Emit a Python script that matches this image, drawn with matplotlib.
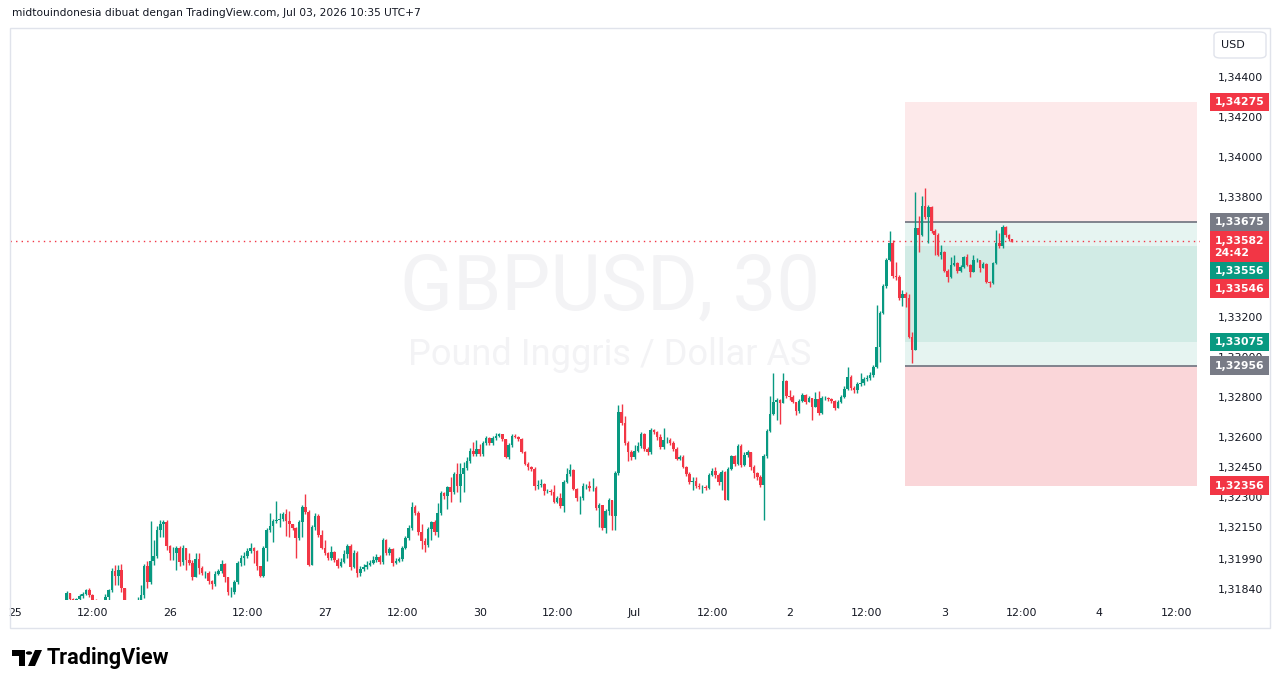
import numpy as np
import matplotlib
matplotlib.use("Agg")
import matplotlib.pyplot as plt
from matplotlib.patches import Rectangle, FancyBboxPatch, Circle, Polygon
import matplotlib.transforms as mtransforms

# GBPUSD 30m candles, prices in points (1e-5), bar index counted from Jun 25 00:00
first_bar = 16
first_open_pts = 131785
closes_pts = [
    131820, 131790, 131785, 131790, 131805, 131815, 131835, 131810, 131780, 131770,
    131755, 131765, 131800, 131835, 131930, 131905, 131935, 131845, 131765, 131750,
    131735, 131755, 131785, 131810, 131955, 131875, 131980, 132005, 132135, 132165,
    132175, 132055, 132020, 132020, 132045, 131975, 132045, 131985, 131970, 131900,
    131990, 131945, 131920, 131920, 131880, 131865, 131915, 131930, 131965, 131900,
    131825, 131825, 131875, 131970, 131995, 132005, 132030, 132045, 132030, 131955,
    131905, 132045, 132135, 132155, 132180, 132185, 132190, 132215, 132180, 132165,
    132145, 132095, 132175, 132250, 132225, 131960, 132150, 132205, 132110, 132045,
    132020, 131995, 132025, 131985, 131955, 131975, 132015, 132055, 131950, 132020,
    131920, 131940, 131950, 131960, 131970, 131985, 132000, 131975, 132085, 132020,
    132040, 131970, 131980, 131990, 132045, 132095, 132145, 132250, 132220, 132125,
    132080, 132060, 132140, 132175, 132125, 132220, 132320, 132305, 132350, 132325,
    132415, 132355, 132415, 132445, 132480, 132530, 132515, 132540, 132515, 132570,
    132595, 132570, 132595, 132605, 132615, 132590, 132500, 132560, 132605, 132600,
    132590, 132525, 132465, 132450, 132440, 132355, 132360, 132365, 132330, 132330,
    132325, 132275, 132295, 132255, 132375, 132415, 132435, 132340, 132295, 132295,
    132355, 132355, 132345, 132345, 132245, 132260, 132145, 132230, 132285, 132205,
    132420, 132725, 132670, 132570, 132525, 132500, 132530, 132555, 132615, 132540,
    132525, 132635, 132625, 132600, 132550, 132585, 132585, 132570, 132540, 132490,
    132500, 132450, 132415, 132375, 132380, 132355, 132350, 132350, 132345, 132410,
    132430, 132410, 132375, 132425, 132285, 132440, 132505, 132465, 132555, 132460,
    132510, 132525, 132450, 132420, 132400, 132360, 132505, 132630, 132715, 132775,
    132785, 132770, 132880, 132805, 132800, 132775, 132730, 132780, 132810, 132775,
    132795, 132750, 132790, 132720, 132795, 132795, 132790, 132780, 132745, 132775,
    132800, 132840, 132900, 132845, 132835, 132865, 132870, 132890, 132895, 132910,
    132950, 133050, 133220, 133355, 133485, 133570, 133405, 133400, 133295, 133315,
    133295, 133100, 133035, 133645, 133610, 133755, 133700, 133750, 133630, 133610,
    133510, 133525, 133430, 133400, 133460, 133470, 133430, 133450, 133500, 133460,
    133425, 133485, 133485, 133445, 133465, 133375, 133370, 133470, 133570, 133555,
    133650, 133610, 133590, 133582,
]
highs_pts = [
    131830, 131800, 131795, 131795, 131815, 131825, 131840, 131845, 131815, 131790,
    131780, 131780, 131815, 131840, 131945, 131960, 131960, 131965, 131845, 131775,
    131765, 131770, 131800, 131860, 131965, 131980, 132180, 132085, 132155, 132185,
    132185, 132185, 132060, 132050, 132055, 132055, 132060, 132045, 132020, 131985,
    132020, 132020, 131955, 131930, 131930, 131885, 131930, 131940, 131985, 131970,
    131900, 131850, 131885, 131980, 132010, 132025, 132045, 132070, 132050, 132035,
    131955, 132055, 132145, 132220, 132190, 132280, 132220, 132225, 132240, 132230,
    132165, 132150, 132185, 132260, 132315, 132235, 132160, 132220, 132215, 132135,
    132085, 132025, 132055, 132030, 131995, 131995, 132035, 132065, 132065, 132035,
    132030, 131955, 131965, 131980, 131985, 132005, 132015, 132010, 132095, 132090,
    132050, 132045, 131995, 132000, 132055, 132105, 132160, 132275, 132260, 132230,
    132165, 132095, 132150, 132180, 132185, 132270, 132330, 132325, 132355, 132400,
    132425, 132470, 132470, 132475, 132500, 132545, 132575, 132585, 132565, 132580,
    132605, 132600, 132605, 132620, 132620, 132615, 132565, 132570, 132615, 132615,
    132605, 132595, 132530, 132475, 132455, 132450, 132385, 132390, 132370, 132340,
    132340, 132360, 132305, 132320, 132385, 132445, 132465, 132440, 132345, 132305,
    132370, 132365, 132380, 132395, 132355, 132270, 132260, 132240, 132295, 132285,
    132430, 132760, 132765, 132705, 132580, 132535, 132560, 132575, 132625, 132620,
    132550, 132645, 132640, 132630, 132615, 132645, 132600, 132595, 132580, 132550,
    132510, 132510, 132455, 132425, 132400, 132400, 132370, 132360, 132360, 132420,
    132445, 132450, 132420, 132435, 132430, 132450, 132510, 132510, 132565, 132565,
    132525, 132535, 132525, 132460, 132425, 132410, 132515, 132640, 132805, 132920,
    132795, 132790, 132920, 132885, 132835, 132810, 132775, 132790, 132820, 132815,
    132805, 132795, 132825, 132830, 132805, 132805, 132800, 132795, 132785, 132785,
    132810, 132855, 132950, 132910, 132855, 132875, 132920, 132900, 132910, 132925,
    132960, 133260, 133230, 133365, 133495, 133630, 133585, 133475, 133410, 133335,
    133325, 133315, 133125, 133825, 133705, 133805, 133845, 133760, 133755, 133640,
    133620, 133560, 133530, 133440, 133500, 133510, 133475, 133460, 133505, 133515,
    133465, 133510, 133495, 133485, 133475, 133470, 133380, 133475, 133635, 133620,
    133660, 133655, 133615, 133590,
]
lows_pts = [
    131775, 131785, 131780, 131780, 131780, 131795, 131810, 131800, 131770, 131760,
    131740, 131745, 131755, 131785, 131825, 131860, 131860, 131825, 131750, 131735,
    131720, 131725, 131745, 131775, 131795, 131845, 131865, 131960, 131995, 132100,
    132100, 132035, 131985, 131985, 131935, 131955, 131960, 131935, 131960, 131885,
    131920, 131915, 131910, 131895, 131865, 131840, 131855, 131910, 131920, 131875,
    131810, 131800, 131815, 131865, 131955, 131960, 131995, 132020, 131970, 131935,
    131900, 131900, 131980, 132125, 132075, 132170, 132150, 132180, 132105, 132100,
    132135, 131995, 132085, 132100, 132215, 131955, 131965, 132135, 132100, 132040,
    132010, 131985, 131985, 131975, 131945, 131950, 131970, 131995, 131935, 131945,
    131900, 131905, 131930, 131940, 131955, 131965, 131975, 131965, 131965, 132010,
    132010, 131955, 131965, 131975, 131980, 132040, 132085, 132135, 132210, 132110,
    132040, 132025, 132050, 132085, 132110, 132100, 132210, 132290, 132240, 132275,
    132315, 132325, 132275, 132325, 132435, 132470, 132505, 132505, 132505, 132505,
    132560, 132560, 132560, 132585, 132600, 132580, 132495, 132490, 132550, 132595,
    132580, 132520, 132460, 132435, 132430, 132335, 132340, 132350, 132310, 132320,
    132310, 132270, 132270, 132245, 132225, 132370, 132405, 132335, 132280, 132215,
    132285, 132340, 132330, 132330, 132235, 132150, 132135, 132120, 132210, 132135,
    132135, 132410, 132660, 132560, 132480, 132485, 132490, 132525, 132545, 132530,
    132510, 132515, 132615, 132585, 132540, 132540, 132570, 132560, 132530, 132485,
    132485, 132445, 132405, 132365, 132335, 132345, 132340, 132320, 132335, 132340,
    132405, 132395, 132360, 132335, 132285, 132285, 132435, 132455, 132460, 132450,
    132455, 132500, 132435, 132395, 132385, 132350, 132185, 132495, 132625, 132710,
    132685, 132665, 132770, 132795, 132785, 132770, 132710, 132720, 132775, 132765,
    132775, 132685, 132750, 132710, 132715, 132785, 132780, 132770, 132735, 132745,
    132770, 132795, 132835, 132835, 132820, 132820, 132855, 132860, 132880, 132885,
    132900, 132945, 132975, 133215, 133345, 133480, 133395, 133385, 133285, 133255,
    133250, 133095, 132970, 133035, 133525, 133605, 133690, 133570, 133620, 133510,
    133505, 133490, 133425, 133375, 133395, 133455, 133420, 133425, 133445, 133455,
    133400, 133425, 133475, 133425, 133445, 133370, 133350, 133365, 133465, 133545,
    133545, 133600, 133580, 133575,
]

time_labels = ["25", "12:00", "26", "12:00", "27", "12:00", "30", "12:00",
               "Jul", "12:00", "2", "12:00", "3", "12:00", "4", "12:00"]
price_ticks = [1.34400, 1.34200, 1.34000, 1.33800, 1.33200, 1.33000, 1.32800,
               1.32600, 1.32450, 1.32300, 1.32150, 1.31990, 1.31840]

last_price = 1.33582
countdown = "24:42"
# position tool levels
pos_top, pos_entry, pos_stop, pos_bottom = 1.34275, 1.33675, 1.32956, 1.32356
inner_top, inner_bottom = 1.33556, 1.33075
# other price-axis markers (value, colour, offset in px)
RED, GREEN, GREY = "#f23645", "#089981", "#787b86"
axis_marks = [
    (1.34275, RED, 0), (1.33675, GREY, 0), (1.33556, GREEN, -25),
    (1.33546, RED, -41), (1.33075, GREEN, 0), (1.32956, GREY, 0), (1.32356, RED, 0),
]
tool_x0, tool_x1 = 275.8, 366.3

closes = np.array(closes_pts) / 1e5
highs = np.array(highs_pts) / 1e5
lows = np.array(lows_pts) / 1e5
opens = np.concatenate([[first_open_pts / 1e5], closes[:-1]])
x = np.arange(first_bar, first_bar + len(closes))
highs = np.maximum(highs, np.maximum(opens, closes))
lows = np.minimum(lows, np.minimum(opens, closes))

W, H = 1281, 688
fig = plt.figure(figsize=(W / 100, H / 100), dpi=100)
fig.patch.set_facecolor("white")
ax = fig.add_axes([10 / W, (H - 600) / H, 1190 / W, 572 / H])
ax.set_xlim(-1.55, 367.2)
ax.set_ylim(1.31785, 1.34645)
for s in ax.spines.values():
    s.set_visible(False)

TXT = "#131722"
AX_FONT = "DejaVu Sans"
# watermark
ax.text(0.504, 0.545, "GBPUSD, 30", transform=ax.transAxes, ha="center", va="center",
        fontsize=56, color="#f3f3f5", family="Roboto", zorder=0)
ax.text(0.504, 0.428, "Pound Inggris / Dollar AS", transform=ax.transAxes, ha="center",
        va="center", fontsize=26, color="#f3f3f5", family="Roboto", zorder=0)

# position tool
ax.add_patch(Rectangle((tool_x0, pos_entry), tool_x1 - tool_x0, pos_top - pos_entry,
                       facecolor="#fde9ea", edgecolor="none", zorder=1))
ax.add_patch(Rectangle((tool_x0, pos_stop), tool_x1 - tool_x0, pos_entry - pos_stop,
                       facecolor="#e6f4f1", edgecolor="none", zorder=1))
ax.add_patch(Rectangle((tool_x0, inner_bottom), tool_x1 - tool_x0, inner_top - inner_bottom,
                       facecolor="#d1ebe5", edgecolor="none", zorder=1))
ax.add_patch(Rectangle((tool_x0, pos_bottom), tool_x1 - tool_x0, pos_stop - pos_bottom,
                       facecolor="#fad6d9", edgecolor="none", zorder=1))
ax.hlines([pos_entry, pos_stop], tool_x0, tool_x1, colors=GREY, lw=1.3, zorder=2)

# last price line
ax.axhline(last_price, color=RED, lw=1, ls=(0, (1, 3)), zorder=2)

# candles
up = closes >= opens
colors = np.where(up, GREEN, RED)
ax.vlines(x, lows, highs, colors=colors, lw=1.0, zorder=3)
body_h = np.maximum(np.abs(closes - opens), 0.000015)
ax.bar(x, body_h, bottom=np.minimum(opens, closes), width=0.8, color=colors,
       linewidth=0, zorder=4)

# axes ticks
ax.set_xticks(np.arange(0, 24 * len(time_labels), 24))
ax.set_xticklabels(time_labels)
ax.tick_params(axis="x", length=0, pad=6, labelsize=7.9, labelcolor=TXT)
ax.yaxis.tick_right()
ax.set_yticks(price_ticks)
ax.set_yticklabels([f"{v:.5f}".replace(".", ",") for v in price_ticks])
ax.tick_params(axis="y", length=0, pad=13, labelsize=7.9, labelcolor=TXT)
for lab in ax.get_xticklabels() + ax.get_yticklabels():
    lab.set_family(AX_FONT)

# coloured price-axis labels
lab_tr = mtransforms.blended_transform_factory(ax.transAxes, ax.transData)
for val, col, off in axis_marks:
    ax.annotate(f"{val:.5f}".replace(".", ","), xy=(1.0, val), xycoords=lab_tr,
                xytext=(10.5, off * 0.72), textcoords="offset points", ha="left", va="center",
                fontsize=7.8, fontweight="bold", color="white", family=AX_FONT,
                bbox=dict(boxstyle="square,pad=0.4", fc=col, ec="none"),
                annotation_clip=False, zorder=6)
ax.annotate(f"{last_price:.5f}".replace(".", ",") + "\n" + countdown, xy=(1.0, last_price),
            xycoords=lab_tr, xytext=(10.5, -4.5), textcoords="offset points", ha="left",
            va="center", fontsize=7.8, fontweight="bold", color="white", family=AX_FONT,
            linespacing=1.3, bbox=dict(boxstyle="square,pad=0.4", fc=RED, ec="none"),
            annotation_clip=False, zorder=7)

# frame, header, USD box, logo
fig.add_artist(Rectangle((10 / W, 1 - 628 / H), 1260 / W, 600 / H, transform=fig.transFigure,
                         fill=False, ec="#e0e3eb", lw=1))
fig.text(12 / W, 1 - 13 / H, "midtouindonesia dibuat dengan TradingView.com, Jul 03, 2026 10:35 UTC+7",
         fontsize=7.7, color=TXT, va="center", ha="left", family="DejaVu Sans")
fig.add_artist(FancyBboxPatch((1214 / W, 1 - 58 / H), 52 / W, 26 / H, transform=fig.transFigure,
                              boxstyle="round,pad=0,rounding_size=0.005", fc="white",
                              ec="#e0e3eb", lw=1))
fig.text(1233 / W, 1 - 45 / H, "USD", fontsize=8, color=TXT, ha="center", va="center",
         family=AX_FONT)

def fp(px, py):
    return (px / W, 1 - py / H)

fig.add_artist(Polygon([fp(12, 650), fp(25, 650), fp(25, 666), fp(19, 666), fp(19, 656),
                        fp(12, 656)], closed=True, transform=fig.transFigure, fc="black"))
fig.add_artist(Circle(fp(29, 653), 3.2 / W, transform=fig.transFigure, fc="black"))
fig.add_artist(Polygon([fp(35, 650), fp(42, 650), fp(35, 666), fp(28, 666)], closed=True,
                       transform=fig.transFigure, fc="black"))
fig.text(47 / W, 1 - 658 / H, "TradingView", fontsize=15.6, fontweight="bold", color="black",
         ha="left", va="center", family="Roboto")

fig.savefig("out.png", dpi=100)
